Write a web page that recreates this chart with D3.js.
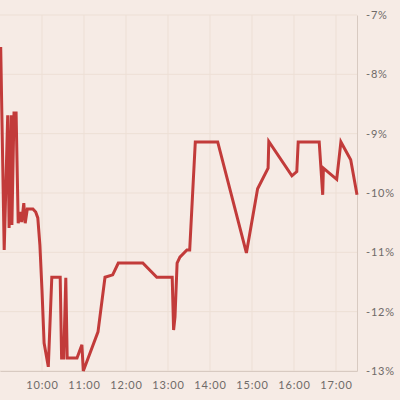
<!DOCTYPE html>
<html><head><meta charset="utf-8">
<script src="https://cdn.jsdelivr.net/npm/d3@7"></script>
<style>
html,body{margin:0;padding:0;background:#f6ebe5;}
svg{display:block;}
.tick text{font-family:Lato,"Open Sans",sans-serif;font-size:11px;fill:#6f6a68;letter-spacing:0.8px;}
</style></head><body>
<svg id="c" width="400" height="400"></svg>
<script>
const times = ["09:01","09:06","09:11","09:13","09:16","09:17","09:20","09:23","09:26","09:29","09:31","09:34","09:36","09:39","09:47","09:51","09:54","09:57","10:00","10:03","10:09","10:14","10:26","10:28","10:31","10:34","10:36","10:50","10:57","10:59","11:20","11:30","11:41","11:49","12:24","12:44","13:06","13:08","13:10","13:13","13:17","13:27","13:31","13:39","14:11","14:52","15:08","15:23","15:24","15:57","16:04","16:06","16:36","16:41","16:42","17:01","17:07","17:21","17:30"];
const values = [-7.54,-10.96,-8.69,-10.59,-8.69,-10.54,-8.65,-8.65,-10.51,-10.32,-10.49,-10.17,-10.51,-10.27,-10.27,-10.32,-10.42,-10.88,-11.64,-12.53,-12.93,-11.42,-11.42,-12.78,-12.78,-11.43,-12.78,-12.78,-12.56,-13.0,-12.34,-11.42,-11.38,-11.18,-11.18,-11.42,-11.42,-12.31,-12.09,-11.18,-11.08,-10.96,-10.96,-9.14,-9.14,-11.01,-9.93,-9.58,-9.13,-9.71,-9.64,-9.14,-9.14,-10.03,-9.58,-9.77,-9.14,-9.44,-10.03];
const yTicks = [-7,-8,-9,-10,-11,-12,-13];
const xTickLabels = ["10:00","11:00","12:00","13:00","14:00","15:00","16:00","17:00"];
const domainStart = "09:00", domainEnd = "17:30";

const parse = d3.timeParse("%H:%M");
const data = times.map((t,i)=>({t:parse(t), v:values[i]}));

const svg = d3.select("#c");
const L=0, R=357, T=15, B=371;
const x = d3.scaleTime().domain([parse(domainStart), parse(domainEnd)]).range([L,R]);
const y = d3.scaleLinear().domain([-13,-7]).range([B,T]);

// grid
const g = svg.append("g");
g.selectAll(".hg").data(yTicks).enter().append("line")
  .attr("x1",L).attr("x2",R).attr("y1",d=>y(d)).attr("y2",d=>y(d))
  .attr("stroke","#eddfd5").attr("stroke-width",1);
const xTicks = xTickLabels.map(parse);
g.selectAll(".vg").data(xTicks).enter().append("line")
  .attr("x1",d=>x(d)).attr("x2",d=>x(d)).attr("y1",T).attr("y2",B)
  .attr("stroke","#eddfd5").attr("stroke-width",1);

// axes
const yAxis = d3.axisRight(y).tickValues(yTicks).tickSize(0).tickPadding(9).tickFormat(d=>d+"%");
const ya = svg.append("g").attr("transform",`translate(${R},0)`).call(yAxis);
ya.select(".domain").attr("stroke","#d8cac1");
const xAxis = d3.axisBottom(x).tickValues(xTicks).tickSize(0).tickPadding(10).tickFormat(d3.timeFormat("%H:%M"));
const xa = svg.append("g").attr("transform",`translate(0,${B})`).call(xAxis);
xa.select(".domain").attr("stroke","#d8cac1");

// line
const line = d3.line().x(d=>x(d.t)).y(d=>y(d.v));
svg.append("path").datum(data).attr("d",line)
  .attr("fill","none").attr("stroke","#c23b3a").attr("stroke-width",3)
  .attr("stroke-linejoin","miter").attr("stroke-miterlimit",4);
</script></body></html>
